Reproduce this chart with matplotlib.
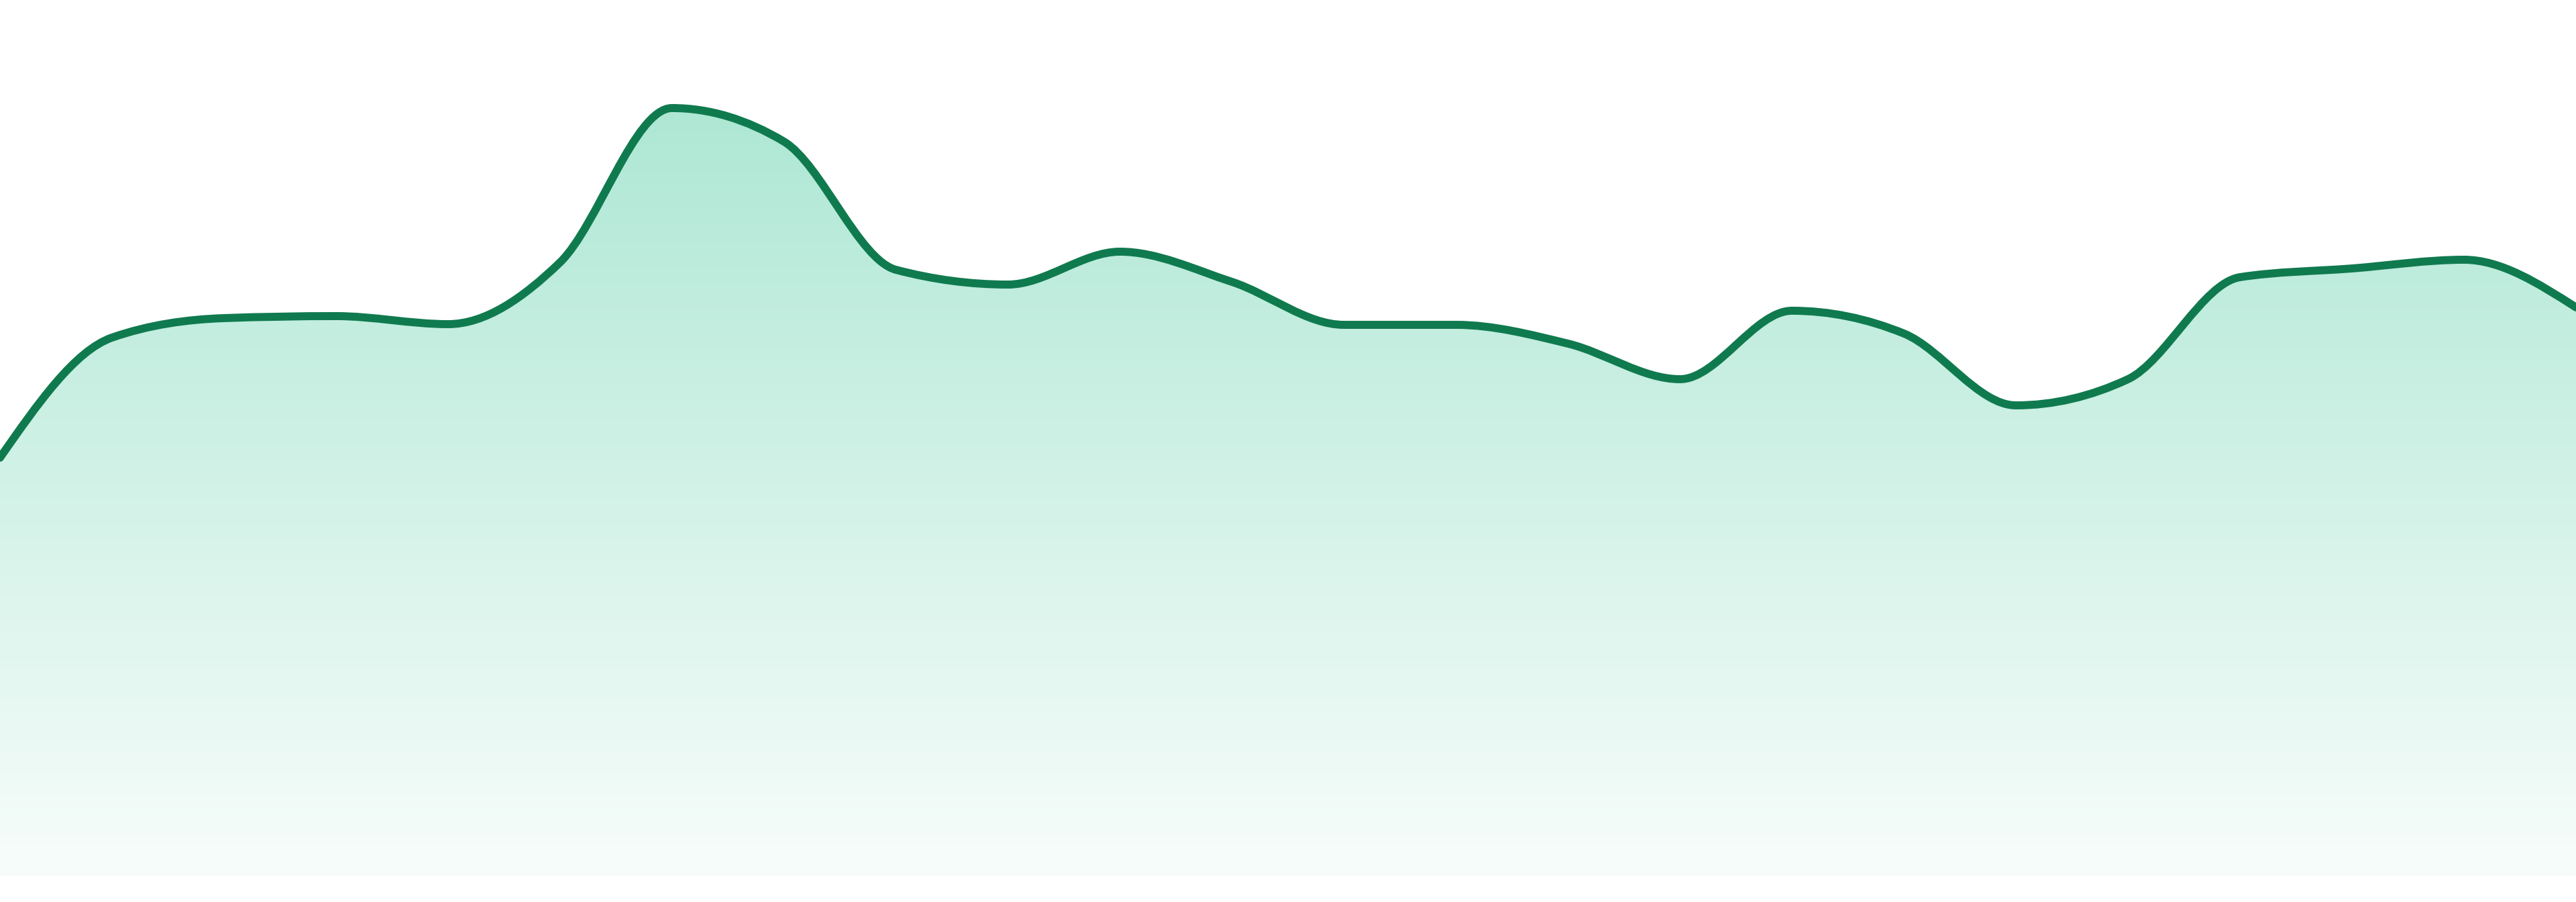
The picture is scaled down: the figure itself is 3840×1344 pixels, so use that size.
import numpy as np
import matplotlib
matplotlib.use('Agg')
import matplotlib.pyplot as plt
from matplotlib.path import Path
from matplotlib.patches import PathPatch

# values, one per step
values = [62.3, 80.2, 83.1, 83.4, 82.2, 91.4, 114.4, 109.4, 90.3, 88.1, 93.0, 88.5,
          82.1, 82.1, 79.3, 74.0, 84.2, 80.8, 70.1, 74.0, 89.2, 90.5, 91.8, 84.7]
steps = list(range(len(values)))

LINE_COLOR = '#107a4f'
FILL_RGB = np.array([16, 185, 129]) / 255.0
ALPHA_TOP, ALPHA_BOTTOM = 0.34, 0.03
Y_MAX = 130.5


def monotone_x(xs, ys):
    # same curve as d3.curveMonotoneX (Steffen tangents)
    xs = np.asarray(xs, float)
    ys = np.asarray(ys, float)
    n = len(xs)
    h = np.diff(xs)
    s = np.diff(ys) / h
    t = np.zeros(n)
    for i in range(1, n - 1):
        p = (s[i - 1] * h[i] + s[i] * h[i - 1]) / (h[i - 1] + h[i])
        sg = (1 if s[i - 1] >= 0 else -1) + (1 if s[i] >= 0 else -1)
        t[i] = sg * min(abs(s[i - 1]), abs(s[i]), 0.5 * abs(p))
    t[0] = (3 * s[0] - t[1]) / 2
    t[-1] = (3 * s[-1] - t[-2]) / 2
    verts = [(xs[0], ys[0])]
    codes = [Path.MOVETO]
    for i in range(n - 1):
        dx = h[i] / 3
        verts += [(xs[i] + dx, ys[i] + dx * t[i]),
                  (xs[i + 1] - dx, ys[i + 1] - dx * t[i + 1]),
                  (xs[i + 1], ys[i + 1])]
        codes += [Path.CURVE4] * 3
    return np.array(verts), codes


fig = plt.figure(figsize=(38.4, 13.44), dpi=100)
ax = fig.add_axes([0, 39 / 1344, 1, 1305 / 1344])
ax.axis('off')

verts, codes = monotone_x(steps, values)
line_path = Path(verts, codes)

# closed area under the curve, used to clip the gradient
area_verts = np.vstack([verts, [[steps[-1], 0], [steps[0], 0], verts[0]]])
area_codes = codes + [Path.LINETO, Path.LINETO, Path.CLOSEPOLY]
area = PathPatch(Path(area_verts, area_codes), facecolor='none', edgecolor='none')
ax.add_patch(area)

# gradient spans the bounding box of the area: top of the peak down to zero
top = max(values)
n = 600
alpha = np.linspace(ALPHA_TOP, ALPHA_BOTTOM, n)[:, None]
grad = np.dstack([1 - alpha * (1 - c) for c in FILL_RGB])
img = ax.imshow(grad, extent=[steps[0], steps[-1], 0, top], aspect='auto',
                origin='upper', interpolation='bilinear', zorder=1)
img.set_clip_path(area)

ax.add_patch(PathPatch(line_path, facecolor='none', edgecolor=LINE_COLOR,
                       lw=8.6, capstyle='round', joinstyle='round', zorder=3))

ax.set_xlim(steps[0], steps[-1])
ax.set_ylim(0, Y_MAX)

fig.savefig('out.png', dpi=100, facecolor='white')
plt.close(fig)
